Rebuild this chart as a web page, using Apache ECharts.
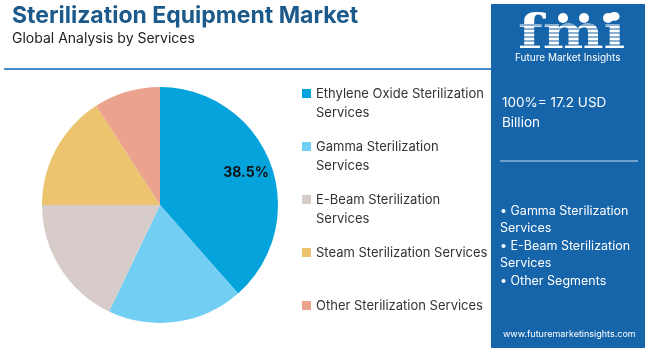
<!DOCTYPE html>
<html>
<head>
<meta charset="utf-8">
<script src="https://cdn.jsdelivr.net/npm/echarts@6/dist/echarts.min.js"></script>
<style>
  html, body { margin: 0; padding: 0; background: #fff; }
  #chart { width: 650px; height: 351px; }
</style>
</head>
<body>
<div id="chart"></div>
<script>
// 数据
var categories = [
    'Ethylene Oxide Sterilization Services',
    'Gamma Sterilization Services',
    'E-Beam Sterilization Services',
    'Steam Sterilization Services',
    'Other Sterilization Services'
];
var shares = [38.5, 18.6, 17.9, 15.9, 9.1];
var colors = ['#05a3dc', '#72cef2', '#d8ccca', '#ebc46d', '#eba38d'];
var legendText = [
    'Ethylene Oxide Sterilization\nServices',
    'Gamma Sterilization\nServices',
    'E-Beam Sterilization\nServices',
    'Steam Sterilization Services\n',
    'Other Sterilization Services\n'
];
var panelLines = ['100%= 17.2 USD', 'Billion'];
var bullets = ['• Gamma Sterilization', 'Services', '• E-Beam Sterilization', 'Services', '• Other Segments'];

var font = 'Inter';
var panelBlue = '#1664a9';
var pieData = categories.map(function (c, i) {
    return { name: c, value: shares[i], itemStyle: { color: colors[i] } };
});

// logo 上的横条纹
var stripes = [];
for (var y = 25; y <= 49; y += 4) {
    stripes.push({ type: 'line', z: 10, shape: { x1: 515, y1: y, x2: 628, y2: y }, style: { stroke: panelBlue, lineWidth: 1.2 } });
}

var myChart = echarts.init(document.getElementById('chart'));

var option = {
    animation: false,
    legend: {
        orient: 'vertical',
        left: 297,
        top: 80,
        itemWidth: 9,
        itemHeight: 30,
        itemGap: 15,
        selectedMode: false,
        // 方块放在顶部，对齐第一行文字
        icon: 'path://M0,0H9V9H0Z M0,30H0.01V30.01H0Z',
        data: categories,
        formatter: function (name) {
            return legendText[categories.indexOf(name)];
        },
        textStyle: { fontFamily: font, fontSize: 13, color: '#333', lineHeight: 19 }
    },
    graphic: [
        { type: 'text', left: 12, top: 5, style: { text: 'Sterilization Equipment Market', fontFamily: font, fontWeight: 'bold', fontSize: 23, fill: '#1b5a8a' } },
        { type: 'text', left: 12, top: 32, style: { text: 'Global Analysis by Services', fontFamily: font, fontSize: 14, fill: '#222' } },
        { type: 'line', shape: { x1: 4, y1: 69, x2: 491, y2: 69 }, style: { stroke: '#4a8cc8', lineWidth: 2 } },
        // 右侧面板
        { type: 'rect', shape: { x: 491, y: 4, width: 154, height: 344 }, style: { fill: panelBlue } },
        { type: 'text', z: 5, x: 518, y: 13, scaleX: 1.25, style: { text: 'fmi', fontFamily: 'DejaVu Serif', fontWeight: 'bold', fontSize: 46, fill: '#fff' } },
        { type: 'circle', z: 11, shape: { cx: 563, cy: 18, r: 5 }, style: { fill: '#fff' } },
        { type: 'circle', z: 11, shape: { cx: 584, cy: 18, r: 5 }, style: { fill: '#fff' } },
        { type: 'circle', z: 11, shape: { cx: 608, cy: 18, r: 5 }, style: { fill: '#fff' } },
        { type: 'text', left: 515, top: 53, style: { text: 'Future Market Insights', fontFamily: font, fontSize: 10, fill: '#fff' } },
        { type: 'text', left: 502, top: 93, style: { text: panelLines.join('\n'), fontFamily: font, fontSize: 13.5, lineHeight: 20, fill: '#fff' } },
        { type: 'line', shape: { x1: 500, y1: 161, x2: 638, y2: 161 }, style: { stroke: '#c9dbee', lineWidth: 1 } },
        { type: 'text', left: 500, top: 202, style: { text: bullets.join('\n'), fontFamily: font, fontSize: 12.5, lineHeight: 17.5, fill: '#fff' } },
        { type: 'text', left: 503, top: 330, style: { text: 'www.futuremarketinsights.com', fontFamily: font, fontSize: 9, fill: '#fff' } }
    ].concat(stripes),
    series: [
        {
            type: 'pie',
            center: [160, 205],
            radius: [0, 118],
            startAngle: 90,
            clockwise: true,
            silent: true,
            label: { show: false },
            labelLine: { show: false },
            data: pieData
        },
        {
            // 透明层，只用于显示标签
            type: 'pie',
            center: [160, 205],
            radius: [60, 118],
            startAngle: 90,
            clockwise: true,
            silent: true,
            legendHoverLink: false,
            itemStyle: { color: 'rgba(0,0,0,0)' },
            label: {
                show: true,
                position: 'inside',
                fontFamily: font,
                fontWeight: 'bold',
                fontSize: 14,
                color: '#111',
                formatter: function (p) {
                    return p.dataIndex === 0 ? p.value.toFixed(1) + '%' : '';
                }
            },
            labelLine: { show: false },
            data: shares.map(function (v, i) { return { name: categories[i], value: v }; })
        }
    ]
};

myChart.setOption(option);
</script>
</body>
</html>
